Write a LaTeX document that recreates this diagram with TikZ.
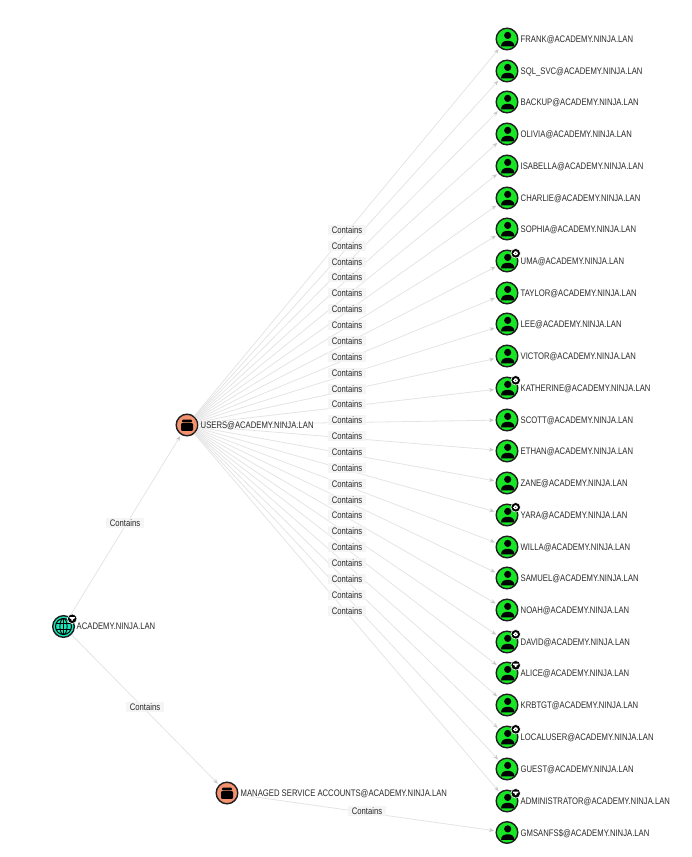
\documentclass[tikz,border=0pt]{standalone}
\usepackage{fontspec}
\setmainfont[FakeStretch=0.81]{Liberation Sans}
\usetikzlibrary{arrows.meta,calc}
\definecolor{usergreen}{HTML}{17E625}
\definecolor{ougold}{HTML}{F4916E}
\definecolor{domteal}{HTML}{17E6B9}
\definecolor{edgegrey}{HTML}{E4E4E4}
\definecolor{tipgrey}{HTML}{C8C8C8}
\definecolor{labtext}{HTML}{2A2A2A}
\definecolor{labfill}{HTML}{F4F4F4}
\tikzset{
  nodetext/.style={font=\fontsize{9.5}{10}\selectfont,text=labtext,inner sep=0pt,anchor=west},
  edgetext/.style={font=\fontsize{9.5}{10}\selectfont,text=labtext,fill=labfill,fill opacity=.95,text opacity=1,inner sep=0pt,minimum width=38pt,minimum height=10.5pt},
  entity/.style={circle,draw=black!88,line width=1.4pt,minimum size=21.6pt,inner sep=0pt},
  userent/.style={entity,fill=usergreen},
  ouent/.style={entity,fill=ougold},
  domainent/.style={entity,fill=domteal},
  link/.style={draw=edgegrey,line width=.8pt,-{Stealth[length=5pt,width=4pt,color=tipgrey]},shorten >=1.5pt},
}
\newcommand{\personicon}[1]{%
  \fill[black] ($(#1)+(0.7,-3.6)$) circle (3.6);
  \fill[black] ($(#1)+(-6,7.4)$) .. controls ($(#1)+(-6,3)$) and ($(#1)+(-2.5,1.8)$) .. ($(#1)+(0.7,1.8)$) .. controls ($(#1)+(4,1.8)$) and ($(#1)+(7.4,3)$) .. ($(#1)+(7.4,7.4)$) -- cycle;
}
\newcommand{\ouicon}[1]{%
  \fill[black,rounded corners=1pt] ($(#1)+(-5,-5.5)$) rectangle ($(#1)+(5,-2.6)$);
  \fill[black,rounded corners=1pt] ($(#1)+(-6,-1.8)$) rectangle ($(#1)+(6,5.8)$);
}
\newcommand{\badgegear}[1]{%
  \fill[black,draw=white,line width=.6pt] ($(#1)+(8.7,-7.7)$) circle (4.8);
  \fill[white] ($(#1)+(8.7,-7.7)$) circle (2.1);
  \draw[white,line width=.9pt] ($(#1)+(6.2,-7.7)$) -- ($(#1)+(11.2,-7.7)$);
  \fill[black] ($(#1)+(8.7,-7.7)$) circle (0.5);
}
\newcommand{\badgefilter}[1]{%
  \fill[black,draw=white,line width=.6pt] ($(#1)+(8.7,-7.7)$) circle (4.8);
  \fill[white] ($(#1)+(5.9,-9.4)$) -- ($(#1)+(11.5,-9.4)$) -- ($(#1)+(11.1,-8)$) -- ($(#1)+(9.7,-7.6)$) -- ($(#1)+(9.4,-5.8)$) -- ($(#1)+(8,-5.8)$) -- ($(#1)+(7.7,-7.6)$) -- ($(#1)+(6.3,-8)$) -- cycle;
}
\begin{document}
\begin{tikzpicture}[x=1pt,y=-1pt]
\useasboundingbox (0,0) rectangle (691,857);
\node[domainent] (dom) at (63.5,626.5) {};
\node[ouent] (usr) at (187,425) {};
\node[ouent] (msa) at (227,793) {};
\def\ulist{FRANK/39,SQL\_SVC/71,BACKUP/102,OLIVIA/134,ISABELLA/166,CHARLIE/198,SOPHIA/229,UMA/261,TAYLOR/293,LEE/324,VICTOR/356,KATHERINE/388,SCOTT/420,ETHAN/451,ZANE/483,YARA/515,WILLA/547,SAMUEL/578,NOAH/610,DAVID/642,ALICE/673,KRBTGT/705,LOCALUSER/737,GUEST/769,ADMINISTRATOR/801}
\foreach \n/\y [count=\i] in \ulist {
  \node[userent] (u\i) at (507,\y) {};
  \node[nodetext] (ut\i) at (520.5,\y+0.8) {\n @ACADEMY.NINJA.LAN};
  \path[link] (usr) -- (u\i);
  \personicon{u\i}
}
\node[userent] (gms) at (507,832.5) {};
\node[nodetext] (gmst) at (520.5,833.3) {GMSANFS\$@ACADEMY.NINJA.LAN};
\personicon{gms}
\foreach \i in {8,12,16,20,23} {\badgegear{u\i}}
\foreach \i in {21,25} {\badgefilter{u\i}}
\path[link] (dom) -- (usr);
\path[link] (dom) -- (msa);
\path[link] (msa) -- (gms);
\ouicon{usr}
\ouicon{msa}
\begin{scope}[shift={(63.5,626.5)}]
  \draw[black,line width=1pt] (0,0) circle (8);
  \draw[black,line width=.9pt] (0,0) ellipse (3.6 and 8);
  \draw[black,line width=.9pt] (0,-8) -- (0,8) (-7.6,-2.7) -- (7.6,-2.7) (-7.6,2.7) -- (7.6,2.7);
\end{scope}
\badgefilter{dom}
\node[nodetext] (domt) at (76.5,626.5) {ACADEMY.NINJA.LAN};
\node[nodetext] (usrt) at (200.5,425.3) {USERS@ACADEMY.NINJA.LAN};
\node[nodetext] (msat) at (240.5,793.3) {MANAGED SERVICE ACCOUNTS@ACADEMY.NINJA.LAN};
\foreach \y [count=\i] in {230,246,262,277,293,309,325,341,357,373,389,404,420,436,452,468,484,500,515,531,547,563,579,595,611} {
  \node[edgetext] (e\i) at (347,\y) {Contains};
}
\node[edgetext] (ea) at (125,523) {Contains};
\node[edgetext] (eb) at (145,707) {Contains};
\node[edgetext] (ec) at (367,811) {Contains};
\end{tikzpicture}
\end{document}
